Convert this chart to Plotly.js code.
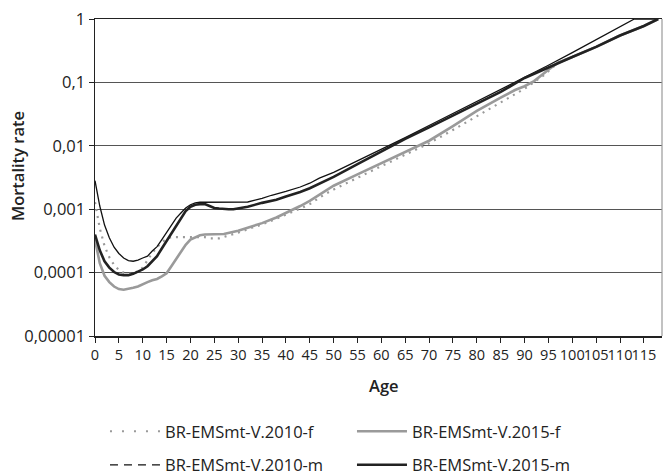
<!DOCTYPE html>
<html>
<head>
<meta charset="utf-8">
<script src="https://cdn.plot.ly/plotly-3.0.1.min.js"></script>
<style>html,body{margin:0;padding:0;background:#fff;}#chart{width:664px;height:476px;}</style>
</head>
<body>
<div id="chart"></div>
<script>
// Ages and mortality rates
const ages_f2010 = [0,1,2,3,4,5,6,7,8,9,10,11,12,13,14,15,16,23,24,26,28,30,33,35,38,40,43,45,48,50,55,60,65,70,75,80,85,88,90,94,97,100,105,110,115,118];
const rate_f2010 = [0.001288,0.000501,0.000263,0.000174,0.000132,0.000110,0.0001,0.0000955,0.0000955,0.000105,0.000120,0.000158,0.000204,0.000251,0.000302,0.000339,0.000363,0.000363,0.000347,0.000347,0.000380,0.000427,0.000513,0.000575,0.000708,0.000813,0.001023,0.001202,0.001698,0.002042,0.003162,0.004786,0.007244,0.01096,0.01778,0.02951,0.04786,0.06457,0.07943,0.1288,0.2042,0.2512,0.3631,0.5495,0.7762,1];

const ages_f2015 = [0,1,2,3,4,5,6,7,8,9,10,11,12,13,14,15,16,17,18,19,20,21,22,23,25,27,30,33,35,38,40,43,45,48,50,55,60,65,70,75,80,85,88,90,92,95,97,100,105,110,115,118];
const rate_f2015 = [0.000331,0.000141,0.0000891,0.0000708,0.0000603,0.0000550,0.0000537,0.0000550,0.0000575,0.0000603,0.0000661,0.0000708,0.0000759,0.0000794,0.0000871,0.0000977,0.000126,0.000166,0.000219,0.000275,0.000331,0.000363,0.000389,0.000398,0.000398,0.000407,0.000457,0.000537,0.000603,0.000741,0.000871,0.001122,0.001349,0.001905,0.002344,0.003548,0.005370,0.007943,0.01202,0.02042,0.03548,0.05754,0.07586,0.08710,0.1047,0.1585,0.2042,0.2512,0.3631,0.5495,0.7762,1];

const ages_m2010 = [0,1,2,3,4,5,6,7,8,9,10,11,12,13,14,15,16,17,18,19,20,21,22,26,32,35,37,40,43,45,47,50,55,60,65,70,75,80,85,90,95,100,105,110,113,118];
const rate_m2010 = [0.002818,0.001122,0.000562,0.000355,0.000251,0.000200,0.000170,0.000155,0.000151,0.000158,0.000170,0.000182,0.000219,0.000257,0.000331,0.000437,0.000575,0.000724,0.000871,0.001047,0.001175,0.001259,0.001288,0.0013,0.0013,0.001479,0.00166,0.001905,0.002239,0.00257,0.00309,0.0038,0.00575,0.00871,0.01349,0.02089,0.03236,0.05012,0.07586,0.1175,0.1862,0.2951,0.4677,0.7586,1,1];

const ages_m2015 = [0,1,2,3,4,5,6,7,8,9,10,11,12,13,14,15,16,17,18,19,20,21,22,23,24,25,26,27,28,29,30,32,35,38,40,43,45,50,55,60,65,70,75,80,85,90,95,100,105,110,115,118];
const rate_m2015 = [0.000398,0.000224,0.000151,0.000120,0.000102,0.0000933,0.0000912,0.0000912,0.0000955,0.000102,0.000112,0.000126,0.000151,0.000182,0.000240,0.000316,0.000398,0.000525,0.000708,0.000933,0.001096,0.001175,0.001202,0.001202,0.001122,0.001047,0.001023,0.001,0.001,0.001,0.001023,0.001096,0.001259,0.001413,0.001585,0.001862,0.002138,0.003236,0.005129,0.008128,0.01288,0.01950,0.03020,0.04677,0.07079,0.1175,0.1738,0.2512,0.3631,0.5495,0.7762,1];

const seriesNames = ['BR-EMSmt-V.2010-f','BR-EMSmt-V.2015-f','BR-EMSmt-V.2010-m','BR-EMSmt-V.2015-m'];
const xTickVals = [0,5,10,15,20,25,30,35,40,45,50,55,60,65,70,75,80,85,90,95,100,105,110,115];
const xTickText = ['0','5','10','15','20','25','30','35','40','45','50','55','60','65','70','75','80','85','90','95','100','105','110','115'];
const yTickVals = [0.00001,0.0001,0.001,0.01,0.1,1];
const yTickText = ['0,00001','0,0001','0,001','0,01','0,1','1'];

const FONT = 'Open Sans, Noto Sans, sans-serif';

const traces = [
  {x: ages_f2010, y: rate_f2010, name: seriesNames[0], mode: 'lines', showlegend: false,
   line: {color: '#9a9a9a', width: 2.2, dash: '2px,5px'}},
  {x: ages_f2015, y: rate_f2015, name: seriesNames[1], mode: 'lines', legend: 'legend', legendrank: 2,
   line: {color: '#9a9a9a', width: 2.6}},
  {x: ages_m2010, y: rate_m2010, name: seriesNames[2], mode: 'lines', showlegend: false,
   line: {color: '#111111', width: 1.3}},
  {x: ages_m2015, y: rate_m2015, name: seriesNames[3], mode: 'lines', legend: 'legend2', legendrank: 2,
   line: {color: '#222222', width: 2.6}},
  // legend-only entries showing the reference's legend line styles
  {x: [null], y: [null], name: seriesNames[0], mode: 'lines', legend: 'legend', legendrank: 1,
   line: {color: '#9a9a9a', width: 2, dash: '2px,10px'}},
  {x: [null], y: [null], name: seriesNames[2], mode: 'lines', legend: 'legend2', legendrank: 1,
   line: {color: '#111111', width: 1.3, dash: '8px,6px'}}
];

const legendCommon = {
  orientation: 'h', xanchor: 'left', yanchor: 'top', x: 0.0176,
  entrywidth: 182, entrywidthmode: 'pixels', itemwidth: 50,
  font: {family: FONT, size: 16.5, color: '#222'}, bgcolor: 'rgba(0,0,0,0)', traceorder: 'normal'
};

const layout = {
  width: 664, height: 476,
  margin: {l: 95, r: 2, t: 19, b: 140, autoexpand: false},
  paper_bgcolor: '#ffffff', plot_bgcolor: '#ffffff',
  font: {family: FONT, size: 14, color: '#222'},
  showlegend: true,
  xaxis: {
    range: [0, 118.8], tickmode: 'array', tickvals: xTickVals, ticktext: xTickText, tickangle: 0,
    ticks: 'outside', ticklen: 5, tickcolor: '#222', showgrid: false, zeroline: false,
    showline: true, mirror: true, linecolor: '#222', linewidth: 1.5, automargin: false,
    tickfont: {family: FONT, size: 14.5, color: '#222'}
  },
  yaxis: {
    type: 'log', range: [-5, 0], tickmode: 'array', tickvals: yTickVals, ticktext: yTickText,
    ticks: 'outside', ticklen: 5, tickcolor: '#222', showgrid: true, gridcolor: '#555555', gridwidth: 1,
    zeroline: false, showline: true, linecolor: '#222', linewidth: 1.5, automargin: false,
    tickfont: {family: FONT, size: 16.5, color: '#222'}
  },
  legend: Object.assign({}, legendCommon, {y: -0.246}),
  legend2: Object.assign({}, legendCommon, {y: -0.352}),
  annotations: [
    {text: 'Mortality rate', xref: 'paper', yref: 'paper', x: -0.1376, y: 0.536, xanchor: 'center', yanchor: 'middle',
     textangle: -90, showarrow: false, font: {family: FONT, size: 16.5, color: '#222', weight: 600}},
    {text: 'Age', xref: 'paper', yref: 'paper', x: 0.51, y: -0.1546, xanchor: 'center', yanchor: 'middle',
     showarrow: false, font: {family: FONT, size: 16.5, color: '#222', weight: 600}}
  ],
  shapes: [
    {type: 'line', xref: 'paper', yref: 'paper', x0: 1, x1: 1, y0: 0, y1: 1, line: {color: '#999', width: 1.2}}
  ]
};

Plotly.newPlot('chart', traces, layout, {displayModeBar: false, staticPlot: true});
</script>
</body>
</html>
